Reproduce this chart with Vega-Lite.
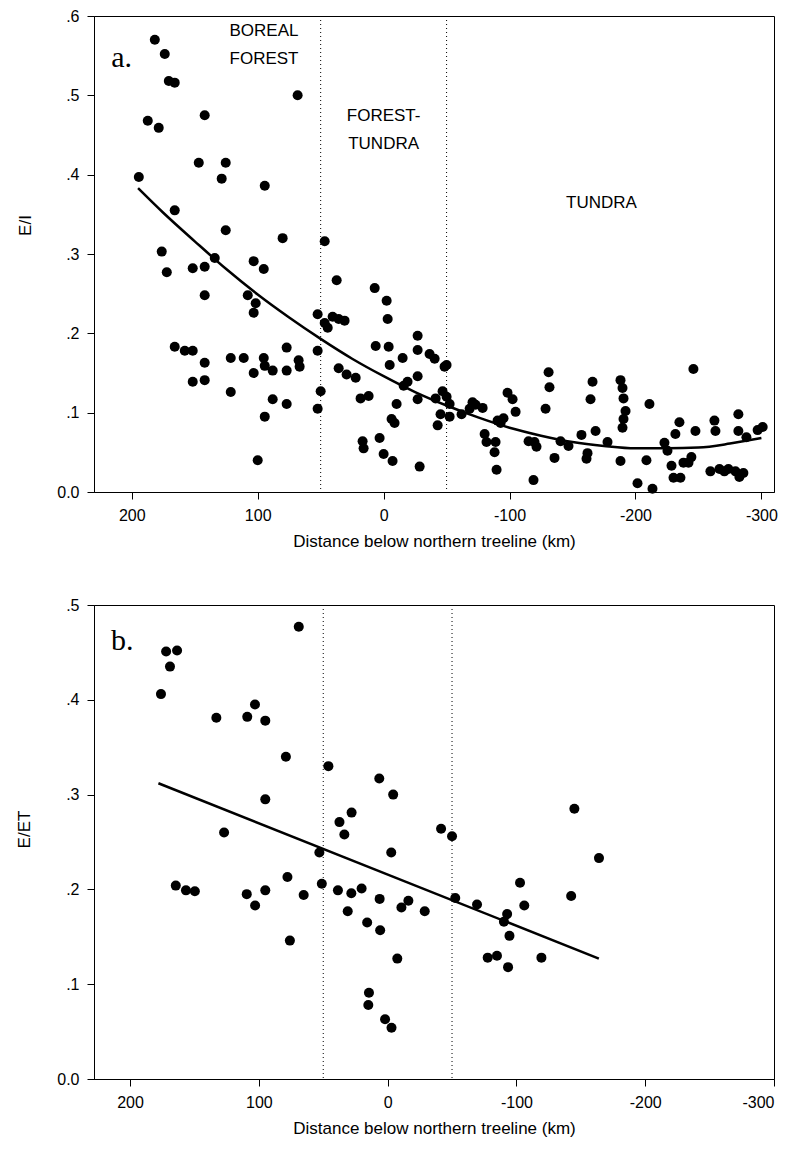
{
  "$schema": "https://vega.github.io/schema/vega-lite/v6.json",
  "padding": {"left": 14, "top": 7, "right": 21, "bottom": 5},
  "background": "white",
  "config": {
    "view": {"stroke": "black", "strokeWidth": 1},
    "axis": {
      "domainColor": "black", "tickColor": "black", "labelColor": "black", "titleColor": "black",
      "labelFont": "Liberation Sans", "titleFont": "Liberation Sans",
      "labelFontSize": 16, "titleFontSize": 17, "titleFontWeight": "normal",
      "tickSize": 7, "labelPadding": 8, "grid": false, "domainWidth": 1, "tickWidth": 1
    }
  },
  "datasets": {
    "ptsA": [
      {"x":194.4,"y":0.397},{"x":187.3,"y":0.468},{"x":181.7,"y":0.570},{"x":178.6,"y":0.459},{"x":176.2,"y":0.303},
      {"x":173.8,"y":0.552},{"x":172.2,"y":0.277},{"x":170.6,"y":0.518},{"x":165.9,"y":0.516},{"x":165.9,"y":0.355},
      {"x":165.9,"y":0.183},{"x":157.9,"y":0.178},{"x":151.6,"y":0.178},{"x":151.6,"y":0.282},{"x":151.6,"y":0.139},
      {"x":146.8,"y":0.415},{"x":142.1,"y":0.475},{"x":142.1,"y":0.284},{"x":142.1,"y":0.248},{"x":142.1,"y":0.163},
      {"x":142.1,"y":0.141},{"x":134.1,"y":0.295},{"x":128.6,"y":0.395},{"x":125.4,"y":0.415},{"x":125.4,"y":0.330},
      {"x":121.4,"y":0.169},{"x":121.4,"y":0.126},{"x":111.1,"y":0.169},{"x":107.9,"y":0.248},{"x":103.2,"y":0.291},
      {"x":103.2,"y":0.226},{"x":103.2,"y":0.150},{"x":101.6,"y":0.238},{"x":100.0,"y":0.040},{"x":94.4,"y":0.386},
      {"x":95.2,"y":0.281},{"x":95.2,"y":0.169},{"x":94.4,"y":0.159},{"x":94.4,"y":0.095},{"x":88.1,"y":0.153},
      {"x":88.1,"y":0.117},{"x":80.2,"y":0.320},{"x":77.0,"y":0.182},{"x":77.0,"y":0.153},{"x":77.0,"y":0.111},
      {"x":68.3,"y":0.500},{"x":67.5,"y":0.166},{"x":66.7,"y":0.158},{"x":52.4,"y":0.178},{"x":52.4,"y":0.224},
      {"x":52.4,"y":0.105},{"x":50.0,"y":0.127},{"x":46.8,"y":0.316},{"x":46.8,"y":0.213},{"x":44.4,"y":0.207},
      {"x":40.5,"y":0.221},{"x":37.3,"y":0.267},{"x":35.7,"y":0.218},{"x":35.7,"y":0.156},{"x":31.0,"y":0.216},
      {"x":29.4,"y":0.148},{"x":22.2,"y":0.144},{"x":18.3,"y":0.118},{"x":16.7,"y":0.064},{"x":15.9,"y":0.055},
      {"x":11.9,"y":0.121},{"x":7.1,"y":0.257},{"x":6.3,"y":0.184},{"x":3.2,"y":0.068},{"x":0.0,"y":0.048},
      {"x":-2.4,"y":0.241},{"x":-3.2,"y":0.218},{"x":-4.0,"y":0.183},{"x":-4.8,"y":0.160},{"x":-7.1,"y":0.039},
      {"x":-6.3,"y":0.092},{"x":-8.7,"y":0.087},{"x":-10.3,"y":0.111},{"x":-15.1,"y":0.169},{"x":-15.9,"y":0.134},
      {"x":-19.0,"y":0.139},{"x":-27.0,"y":0.197},{"x":-27.0,"y":0.179},{"x":-27.0,"y":0.146},{"x":-27.0,"y":0.117},
      {"x":-28.6,"y":0.032},{"x":-36.5,"y":0.174},{"x":-40.5,"y":0.168},{"x":-41.3,"y":0.118},{"x":-42.9,"y":0.084},
      {"x":-45.2,"y":0.098},{"x":-46.8,"y":0.127},{"x":-48.4,"y":0.158},{"x":-50.0,"y":0.120},{"x":-52.4,"y":0.095},
      {"x":-52.4,"y":0.111},{"x":-50.0,"y":0.160},{"x":-61.9,"y":0.098},{"x":-68.3,"y":0.105},{"x":-70.6,"y":0.113},
      {"x":-73.0,"y":0.110},{"x":-78.6,"y":0.106},{"x":-80.2,"y":0.073},{"x":-81.7,"y":0.063},{"x":-88.1,"y":0.050},
      {"x":-88.9,"y":0.063},{"x":-89.7,"y":0.028},{"x":-90.5,"y":0.090},{"x":-92.9,"y":0.087},{"x":-95.2,"y":0.093},
      {"x":-98.4,"y":0.125},{"x":-102.4,"y":0.117},{"x":-104.8,"y":0.101},{"x":-115.1,"y":0.064},{"x":-119.0,"y":0.015},
      {"x":-119.8,"y":0.063},{"x":-121.4,"y":0.057},{"x":-128.6,"y":0.105},{"x":-131.0,"y":0.151},{"x":-131.7,"y":0.132},
      {"x":-135.7,"y":0.043},{"x":-140.5,"y":0.064},{"x":-146.8,"y":0.058},{"x":-157.1,"y":0.072},{"x":-161.1,"y":0.042},
      {"x":-161.9,"y":0.049},{"x":-164.3,"y":0.117},{"x":-165.9,"y":0.139},{"x":-168.3,"y":0.077},{"x":-177.8,"y":0.063},
      {"x":-188.1,"y":0.141},{"x":-189.7,"y":0.131},{"x":-190.5,"y":0.118},{"x":-192.1,"y":0.102},{"x":-190.5,"y":0.092},
      {"x":-189.7,"y":0.081},{"x":-188.1,"y":0.039},{"x":-201.6,"y":0.011},{"x":-208.7,"y":0.040},{"x":-211.1,"y":0.111},
      {"x":-213.5,"y":0.004},{"x":-223.0,"y":0.062},{"x":-225.4,"y":0.052},{"x":-228.6,"y":0.033},{"x":-230.2,"y":0.018},
      {"x":-231.7,"y":0.073},{"x":-234.9,"y":0.088},{"x":-235.7,"y":0.018},{"x":-238.1,"y":0.037},{"x":-242.1,"y":0.037},
      {"x":-244.4,"y":0.044},{"x":-246.0,"y":0.155},{"x":-247.6,"y":0.077},{"x":-259.5,"y":0.026},{"x":-262.7,"y":0.090},
      {"x":-263.5,"y":0.077},{"x":-266.7,"y":0.029},{"x":-270.6,"y":0.026},{"x":-273.8,"y":0.029},{"x":-279.4,"y":0.026},
      {"x":-282.5,"y":0.019},{"x":-281.7,"y":0.098},{"x":-281.7,"y":0.077},{"x":-285.7,"y":0.024},{"x":-288.1,"y":0.069},
      {"x":-297.0,"y":0.078},{"x":-301.0,"y":0.082}
    ],
    "fitA": [
      {"x":195,"y":0.383},{"x":175,"y":0.352},{"x":150,"y":0.316},{"x":125,"y":0.281},{"x":100,"y":0.249},
      {"x":75,"y":0.220},{"x":50,"y":0.193},{"x":25,"y":0.168},{"x":0,"y":0.146},{"x":-25,"y":0.126},
      {"x":-50,"y":0.109},{"x":-75,"y":0.094},{"x":-100,"y":0.081},{"x":-125,"y":0.071},{"x":-150,"y":0.063},
      {"x":-175,"y":0.058},{"x":-200,"y":0.055},{"x":-225,"y":0.055},{"x":-250,"y":0.056},{"x":-275,"y":0.061},
      {"x":-300,"y":0.068}
    ],
    "zones": [{"x":50},{"x":-50}],
    "txtA": [
      {"x":95,"y":0.581,"t":"BOREAL"},{"x":95,"y":0.546,"t":"FOREST"},
      {"x":0,"y":0.474,"t":"FOREST-"},{"x":0,"y":0.439,"t":"TUNDRA"},
      {"x":-173,"y":0.364,"t":"TUNDRA"}
    ],
    "labA": [{"x":208,"y":0.547,"t":"a."}],
    "ptsB": [
      {"x":164.5,"y":0.204},{"x":156.6,"y":0.199},{"x":149.7,"y":0.198},{"x":109.4,"y":0.195},{"x":102.9,"y":0.183},
      {"x":95.0,"y":0.199},{"x":77.8,"y":0.213},{"x":75.9,"y":0.146},{"x":65.2,"y":0.194},{"x":53.0,"y":0.239},
      {"x":51.1,"y":0.206},{"x":38.6,"y":0.199},{"x":31.0,"y":0.177},{"x":28.2,"y":0.196},{"x":20.2,"y":0.201},
      {"x":15.9,"y":0.165},{"x":6.2,"y":0.190},{"x":5.8,"y":0.157},{"x":14.5,"y":0.091},{"x":-2.8,"y":0.239},
      {"x":-7.5,"y":0.127},{"x":-10.7,"y":0.181},{"x":-16.1,"y":0.188},{"x":-28.8,"y":0.177},{"x":-52.5,"y":0.191},
      {"x":-69.4,"y":0.184},{"x":-92.8,"y":0.174},{"x":-90.3,"y":0.166},{"x":-94.6,"y":0.151},{"x":-77.7,"y":0.128},
      {"x":-84.9,"y":0.130},{"x":-93.5,"y":0.118},{"x":-102.8,"y":0.207},{"x":-106.1,"y":0.183},{"x":-119.4,"y":0.128},
      {"x":-142.5,"y":0.193},{"x":-164.1,"y":0.233},
      {"x":176,"y":0.406},{"x":172,"y":0.451},{"x":163.5,"y":0.452},{"x":169,"y":0.435},{"x":133,"y":0.381},
      {"x":127,"y":0.260},{"x":109,"y":0.382},{"x":103,"y":0.395},{"x":95,"y":0.378},{"x":95,"y":0.295},
      {"x":79,"y":0.340},{"x":69,"y":0.477},{"x":46,"y":0.330},{"x":6.5,"y":0.317},{"x":-4.3,"y":0.300},
      {"x":37.4,"y":0.271},{"x":33.6,"y":0.258},{"x":28,"y":0.281},{"x":-41.5,"y":0.264},{"x":-50,"y":0.256},
      {"x":-145,"y":0.285},{"x":15,"y":0.078},{"x":2,"y":0.063},{"x":-3,"y":0.054}
    ],
    "fitB": [{"x":178,"y":0.312},{"x":-164,"y":0.127}],
    "labB": [{"x":206,"y":0.462,"t":"b."}]
  },
  "vconcat": [
    {
      "width": 680, "height": 476,
      "layer": [
        {"data": {"name": "zones"}, "mark": {"type": "rule", "strokeDash": [1, 3], "color": "black", "strokeWidth": 1},
         "encoding": {"x": {"field": "x", "type": "quantitative", "scale": {"domain": [230, -310], "nice": false, "zero": false},
           "axis": {"values": [200, 100, 0, -100, -200, -300], "labelExpr": "'' + datum.value", "title": "Distance below northern treeline (km)", "titlePadding": 10}}}},
        {"data": {"name": "ptsA"}, "mark": {"type": "circle", "size": 100, "color": "black", "opacity": 1},
         "encoding": {"x": {"field": "x", "type": "quantitative"},
           "y": {"field": "y", "type": "quantitative", "scale": {"domain": [0, 0.6], "nice": false, "zero": false},
             "axis": {"values": [0, 0.1, 0.2, 0.3, 0.4, 0.5, 0.6], "labelExpr": "datum.value === 0 ? '0.0' : replace(format(datum.value, '.1f'), '0.', '.')", "title": "E/I", "titleAngle": 270, "titleAlign": "center", "titleBaseline": "middle", "titleX": -69, "titleY": 209}}}},
        {"data": {"name": "fitA"}, "mark": {"type": "line", "color": "black", "strokeWidth": 2.5, "interpolate": "monotone"},
         "encoding": {"x": {"field": "x", "type": "quantitative"}, "y": {"field": "y", "type": "quantitative"}}},
        {"data": {"name": "txtA"}, "mark": {"type": "text", "font": "Liberation Sans", "fontSize": 17, "color": "black", "align": "center", "baseline": "middle"},
         "encoding": {"x": {"field": "x", "type": "quantitative"}, "y": {"field": "y", "type": "quantitative"}, "text": {"field": "t"}}},
        {"data": {"name": "labA"}, "mark": {"type": "text", "font": "Liberation Serif", "fontSize": 30, "color": "black", "align": "center", "baseline": "middle"},
         "encoding": {"x": {"field": "x", "type": "quantitative"}, "y": {"field": "y", "type": "quantitative"}, "text": {"field": "t"}}}
      ]
    },
    {
      "width": 680, "height": 474,
      "layer": [
        {"data": {"name": "zones"}, "mark": {"type": "rule", "strokeDash": [1, 3], "color": "black", "strokeWidth": 1},
         "encoding": {"x": {"field": "x", "type": "quantitative", "scale": {"domain": [228, -300], "nice": false, "zero": false},
           "axis": {"values": [200, 100, 0, -100, -200, -300], "labelExpr": "'' + datum.value", "title": "Distance below northern treeline (km)", "titlePadding": 10}}}},
        {"data": {"name": "ptsB"}, "mark": {"type": "circle", "size": 100, "color": "black", "opacity": 1},
         "encoding": {"x": {"field": "x", "type": "quantitative"},
           "y": {"field": "y", "type": "quantitative", "scale": {"domain": [0, 0.5], "nice": false, "zero": false},
             "axis": {"values": [0, 0.1, 0.2, 0.3, 0.4, 0.5], "labelExpr": "datum.value === 0 ? '0.0' : replace(format(datum.value, '.1f'), '0.', '.')", "title": "E/ET", "titleAngle": 270, "titleAlign": "center", "titleBaseline": "middle", "titleX": -70, "titleY": 224}}}},
        {"data": {"name": "fitB"}, "mark": {"type": "line", "color": "black", "strokeWidth": 2.5},
         "encoding": {"x": {"field": "x", "type": "quantitative"}, "y": {"field": "y", "type": "quantitative"}}},
        {"data": {"name": "labB"}, "mark": {"type": "text", "font": "Liberation Serif", "fontSize": 30, "color": "black", "align": "center", "baseline": "middle"},
         "encoding": {"x": {"field": "x", "type": "quantitative"}, "y": {"field": "y", "type": "quantitative"}, "text": {"field": "t"}}}
      ]
    }
  ],
  "spacing": 113,
  "bounds": "flush"
}
